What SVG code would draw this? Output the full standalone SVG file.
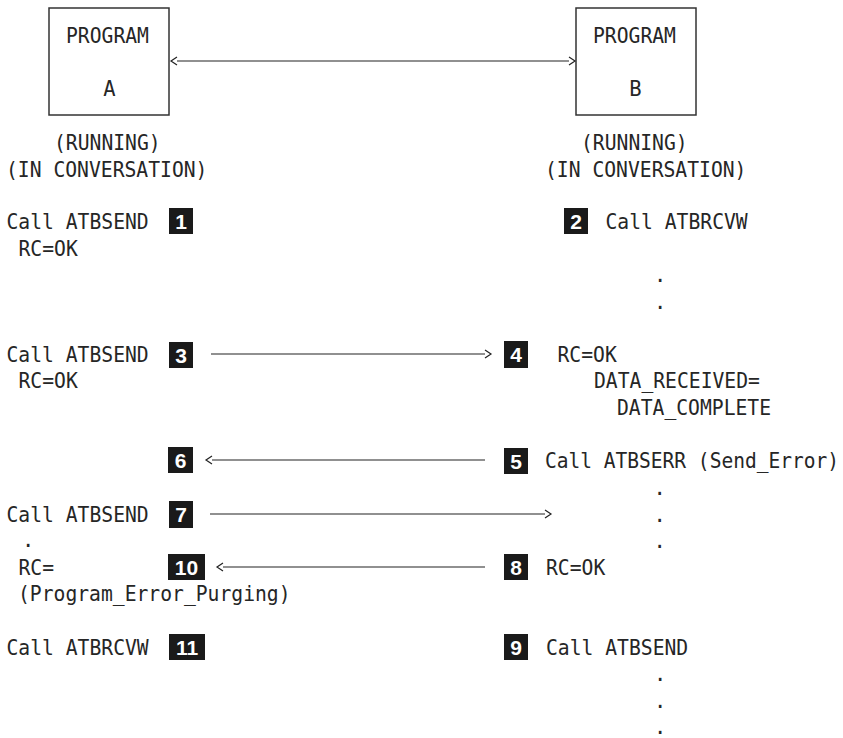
<svg xmlns="http://www.w3.org/2000/svg" width="843" height="738" viewBox="0 0 843 738">
<style>
  .t { font-family: "DejaVu Sans Mono", "Liberation Mono", monospace; font-size: 20.5px; fill: #262626; }
  .box { fill: none; stroke: #333; stroke-width: 1.5; }
  .badge { fill: #1a1a1a; }
  .num { font-family: "Liberation Sans", Arial, sans-serif; font-weight: bold; font-size: 21px; fill: #fff; text-anchor: middle; }
  .arrow { stroke: #222; stroke-width: 1.2; fill: none; }
</style>
<defs>
  <marker id="ah" viewBox="-1 -5 9 10" markerWidth="9" markerHeight="10" refX="0" refY="0" orient="auto-start-reverse" markerUnits="userSpaceOnUse">
    <path d="M-6,-4 L0,0 L-6,4" transform="translate(6,0)" fill="none" stroke="#222" stroke-width="1.2"/>
  </marker>
</defs>
<rect width="843" height="738" fill="#fff"/>

<g id="programA">
  <rect class="box" x="49" y="8" width="120" height="107"/>
  <text class="t" x="66" y="43" textLength="82.95" lengthAdjust="spacingAndGlyphs">PROGRAM</text>
  <text class="t" x="109.5" y="96" text-anchor="middle">A</text>
  <text class="t" x="54" y="150" textLength="106.65" lengthAdjust="spacingAndGlyphs">(RUNNING)</text>
  <text class="t" x="6" y="177" textLength="201.45" lengthAdjust="spacingAndGlyphs">(IN CONVERSATION)</text>
</g>

<g id="programB">
  <rect class="box" x="576" y="8" width="120" height="107"/>
  <text class="t" x="593" y="43" textLength="82.95" lengthAdjust="spacingAndGlyphs">PROGRAM</text>
  <text class="t" x="635.5" y="96" text-anchor="middle">B</text>
  <text class="t" x="581" y="150" textLength="106.65" lengthAdjust="spacingAndGlyphs">(RUNNING)</text>
  <text class="t" x="545" y="177" textLength="201.45" lengthAdjust="spacingAndGlyphs">(IN CONVERSATION)</text>
</g>

<g id="step1">
  <text class="t" x="6.5" y="229" textLength="142.2" lengthAdjust="spacingAndGlyphs">Call ATBSEND</text>
  <rect class="badge" x="169" y="208" width="24" height="26"/>
  <text class="num" x="181" y="229">1</text>
  <text class="t" x="18.5" y="256" textLength="59.25" lengthAdjust="spacingAndGlyphs">RC=OK</text>
</g>

<g id="step2">
  <rect class="badge" x="564" y="208" width="24" height="26"/>
  <text class="num" x="576" y="229">2</text>
  <text class="t" x="605.5" y="229" textLength="142.2" lengthAdjust="spacingAndGlyphs">Call ATBRCVW</text>
  <text class="t" x="654" y="282">.</text>
  <text class="t" x="654" y="309">.</text>
</g>

<g id="step3">
  <text class="t" x="6.5" y="362" textLength="142.2" lengthAdjust="spacingAndGlyphs">Call ATBSEND</text>
  <rect class="badge" x="169" y="342" width="24" height="26"/>
  <text class="num" x="181" y="363">3</text>
  <text class="t" x="18.5" y="388" textLength="59.25" lengthAdjust="spacingAndGlyphs">RC=OK</text>
</g>

<g id="step4">
  <rect class="badge" x="504" y="341" width="24" height="27"/>
  <text class="num" x="516" y="362">4</text>
  <text class="t" x="557.5" y="362" textLength="59.25" lengthAdjust="spacingAndGlyphs">RC=OK</text>
  <text class="t" x="594" y="388" textLength="165.9" lengthAdjust="spacingAndGlyphs">DATA_RECEIVED=</text>
  <text class="t" x="617" y="415" textLength="154.05" lengthAdjust="spacingAndGlyphs">DATA_COMPLETE</text>
</g>

<g id="step5">
  <rect class="badge" x="504" y="448" width="24" height="26"/>
  <text class="num" x="516" y="469">5</text>
  <text class="t" x="545" y="468" textLength="294" lengthAdjust="spacingAndGlyphs">Call ATBSERR (Send_Error)</text>
  <text class="t" x="653.5" y="495">.</text>
  <text class="t" x="653.5" y="522">.</text>
  <text class="t" x="653.5" y="548">.</text>
</g>

<g id="step6">
  <rect class="badge" x="168" y="447" width="25" height="26"/>
  <text class="num" x="180.5" y="468">6</text>
</g>

<g id="step7">
  <text class="t" x="6.5" y="522" textLength="142.2" lengthAdjust="spacingAndGlyphs">Call ATBSEND</text>
  <rect class="badge" x="169" y="501" width="24" height="27"/>
  <text class="num" x="181" y="522">7</text>
  <text class="t" x="22" y="547">.</text>
</g>

<g id="step8">
  <rect class="badge" x="504" y="554" width="24" height="26"/>
  <text class="num" x="516" y="575">8</text>
  <text class="t" x="546" y="575" textLength="59.25" lengthAdjust="spacingAndGlyphs">RC=OK</text>
</g>

<g id="step10">
  <text class="t" x="18.5" y="575" textLength="35.55" lengthAdjust="spacingAndGlyphs">RC=</text>
  <rect class="badge" x="168" y="554" width="37" height="26"/>
  <text class="num" x="186.5" y="575">10</text>
  <text class="t" x="18" y="601" textLength="272.55" lengthAdjust="spacingAndGlyphs">(Program_Error_Purging)</text>
</g>

<g id="step11">
  <text class="t" x="6.5" y="655" textLength="142.2" lengthAdjust="spacingAndGlyphs">Call ATBRCVW</text>
  <rect class="badge" x="169" y="634" width="36" height="26"/>
  <text class="num" x="187" y="655">11</text>
</g>

<g id="step9">
  <rect class="badge" x="504" y="634" width="24" height="26"/>
  <text class="num" x="516" y="655">9</text>
  <text class="t" x="546" y="655" textLength="142.2" lengthAdjust="spacingAndGlyphs">Call ATBSEND</text>
  <text class="t" x="654" y="681">.</text>
  <text class="t" x="654" y="708">.</text>
  <text class="t" x="654" y="734">.</text>
</g>

<g id="connectors">
  <line class="arrow" x1="177" y1="61" x2="569" y2="61" marker-start="url(#ah)" marker-end="url(#ah)"/>
  <line class="arrow" x1="211" y1="354" x2="485" y2="354" marker-end="url(#ah)"/>
  <line class="arrow" x1="485" y1="460" x2="212" y2="460" marker-end="url(#ah)"/>
  <line class="arrow" x1="210" y1="514" x2="545" y2="514" marker-end="url(#ah)"/>
  <line class="arrow" x1="485" y1="567" x2="223" y2="567" marker-end="url(#ah)"/>
</g>
</svg>
